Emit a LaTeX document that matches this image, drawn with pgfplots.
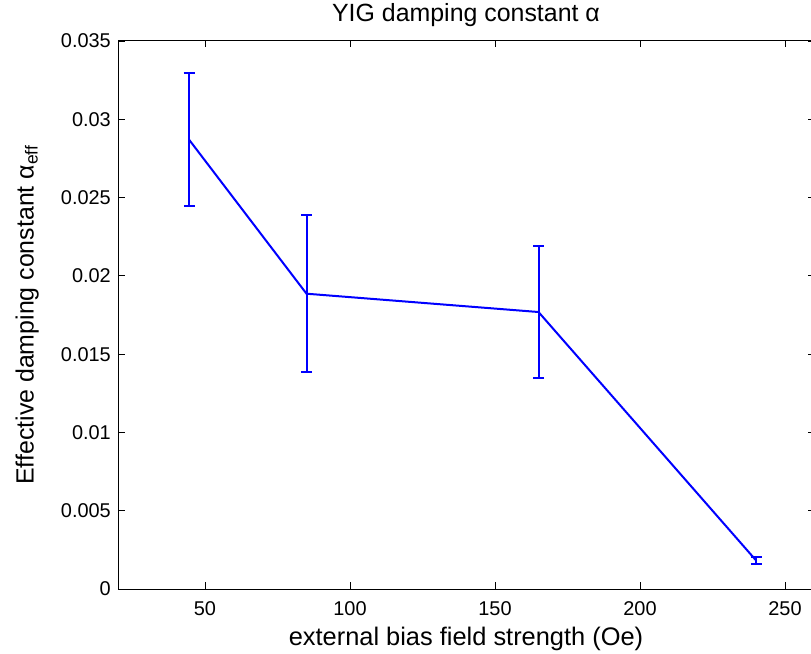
\documentclass[border=0pt]{standalone}
\usepackage{fontspec}
\setmainfont{Liberation Sans}
\usepackage{pgfplots}
\pgfplotsset{compat=1.18}
\begin{document}
\begin{tikzpicture}
\begin{axis}[
  scale only axis,
  width=696bp, height=548bp,
  at={(118bp,65bp)}, anchor=south west,
  xmin=20, xmax=260, ymin=0, ymax=0.035,
  xtick={50,100,150,200,250},
  ytick={0,0.005,0.01,0.015,0.02,0.025,0.03,0.035},
  tick align=inside, major tick length=6.5bp,
  axis line style={line width=1bp},
  every tick/.style={black, line width=0.8bp},
  /pgf/number format/assume math mode=true,
  scaled y ticks=false,
  every axis title shift=0pt,
  yticklabel style={/pgf/number format/fixed, /pgf/number format/precision=3,
    font=\fontsize{20}{24}\selectfont, inner sep=0pt, anchor=east, xshift=-7bp},
  xticklabel style={font=\fontsize{20}{24}\selectfont, inner sep=0pt, anchor=base, yshift=-26bp},
  title={YIG damping constant α},
  title style={font=\fontsize{25}{30}\selectfont, inner sep=0pt, at={(axis description cs:0.5,1.0347)}, anchor=base, yshift=0pt},
  xlabel={external bias field strength (Oe)},
  xlabel style={font=\fontsize{25.5}{30}\selectfont, inner sep=0pt, at={(axis description cs:0.5,-0.104)}, anchor=base},
  ylabel={Effective damping constant α\textsubscript{eff}},
  ylabel style={font=\fontsize{25}{30}\selectfont, inner sep=0pt, at={(axis description cs:-0.1214,0.5)}, anchor=base, rotate=0},
]
\addplot[blue, line width=2bp, mark=none,
  error bars/.cd, y dir=both, y explicit,
  error bar style={line width=2bp, blue},
  error mark options={rotate=90, line width=2bp, mark size=5.5bp, blue}]
coordinates {
  (44.5, 0.0287) +- (0, 0.00425)
  (85, 0.01886) +- (0, 0.00502)
  (165, 0.01769) +- (0, 0.00419)
  (240, 0.00183) +- (0, 0.00023)
};
\end{axis}
\pgfresetboundingbox
\useasboundingbox (0,0) rectangle (811bp,654bp);
\end{tikzpicture}
\end{document}
